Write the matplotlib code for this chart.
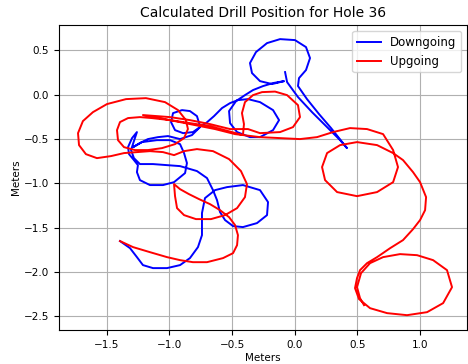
import numpy as np
import matplotlib
matplotlib.use("Agg")
import matplotlib.pyplot as plt

# Drill path traces (meters), east offset / north offset
down_x = [-0.077, -0.061, 0.026, 0.138, 0.258, 0.362, 0.417, 0.290, 0.194, 0.098, 0.026, 0.034,
          0.090, 0.122, 0.090, 0.002, -0.117, -0.221, -0.309, -0.357, -0.341, -0.277, -0.181, -0.085,
          -0.173, -0.253, -0.333, -0.397, -0.468, -0.524, -0.516, -0.460, -0.357, -0.277, -0.173, -0.125,
          -0.173, -0.277, -0.373, -0.453, -0.516, -0.580, -0.644, -0.708,
          -0.756, -0.780, -0.836, -0.899, -0.971, -0.987, -0.955, -0.891, -0.812, -0.756,
          -0.820, -0.915, -1.011, -1.091, -1.171, -1.235, -1.290,
          -1.219, -1.099, -0.995, -0.915, -0.883, -0.860, -0.875, -0.963, -1.051, -1.155, -1.235, -1.259,
          -1.251, -1.283, -1.322, -1.330, -1.298, -1.259,
          -1.283, -1.306, -1.283, -1.235, -1.131, -1.019, -0.915, -0.780, -0.700, -0.652, -0.620, -0.596,
          -0.556, -0.492, -0.413, -0.301, -0.221, -0.213, -0.277, -0.413, -0.540, -0.636, -0.716, -0.740,
          -0.740, -0.772, -0.836, -0.915, -1.019, -1.131, -1.211, -1.259, -1.314, -1.394]
down_y = [0.254, 0.141, -0.028, -0.198, -0.367, -0.514, -0.604, -0.378, -0.220, -0.051, 0.096, 0.186,
          0.277, 0.412, 0.536, 0.615, 0.626, 0.581, 0.480, 0.356, 0.243, 0.152, 0.119, 0.152,
          0.130, 0.096, 0.051, -0.006, -0.073, -0.186, -0.322, -0.423, -0.480, -0.480, -0.401, -0.288,
          -0.175, -0.085, -0.051, -0.062, -0.096, -0.152, -0.243, -0.322,
          -0.356, -0.243, -0.186, -0.175, -0.209, -0.310, -0.401, -0.435, -0.423, -0.367,
          -0.457, -0.502, -0.468, -0.480, -0.502, -0.547, -0.593,
          -0.536, -0.514, -0.514, -0.559, -0.660, -0.773, -0.886, -0.988, -1.021, -1.021, -0.965, -0.875,
          -0.796, -0.739, -0.672, -0.593, -0.491, -0.423,
          -0.525, -0.626, -0.717, -0.784, -0.784, -0.796, -0.807, -0.863, -0.942, -1.078, -1.191, -1.326,
          -1.416, -1.484, -1.495, -1.450, -1.360, -1.213, -1.078, -1.021, -1.044, -1.078, -1.168, -1.337,
          -1.586, -1.721, -1.845, -1.924, -1.958, -1.958, -1.924, -1.834, -1.733, -1.653]

up_x = [-1.394, -1.290, -1.155, -1.019, -0.915, -0.812, -0.700, -0.572, -0.492, -0.460, -0.453, -0.476,
        -0.524, -0.596, -0.676, -0.764, -0.844, -0.915, -0.963,
        -0.955, -0.939, -0.883, -0.788, -0.668, -0.556, -0.460, -0.397, -0.381, -0.429, -0.524, -0.652,
        -0.780, -0.883,
        -0.963, -1.051, -1.155, -1.259, -1.362, -1.466, -1.578, -1.666,
        -1.721, -1.729, -1.690, -1.610, -1.498, -1.346, -1.187, -1.035, -0.931, -0.868, -0.852, -0.883,
        -0.955, -1.059, -1.171, -1.275,
        -1.362, -1.410, -1.418, -1.394, -1.330, -1.235, -1.139,
        -0.995, -0.836, -0.676, -0.532, -0.413,
        -0.405, -0.421, -0.397, -0.333, -0.261, -0.157, -0.061, 0.026, 0.042, -0.014, -0.117, -0.277, -0.373,
        -0.516, -0.676, -0.836, -0.995, -1.211,
        -1.035, -0.836, -0.636, -0.476, -0.277, -0.117, 0.042, 0.178, 0.306, 0.441, 0.577, 0.705, 0.785,
        0.824, 0.785, 0.657, 0.497, 0.338, 0.242, 0.218, 0.258, 0.362, 0.497, 0.657, 0.785,
        0.864, 0.944, 1.000, 1.048, 1.040, 1.000, 0.944, 0.864, 0.761, 0.657, 0.577, 0.521,
        0.497, 0.481, 0.513, 0.601, 0.737, 0.896, 1.056, 1.184, 1.255, 1.215, 1.104, 0.976,
        0.840, 0.705, 0.601, 0.529, 0.497, 0.521, 0.553]
up_y = [-1.653, -1.721, -1.778, -1.834, -1.868, -1.891, -1.891, -1.845, -1.789, -1.699, -1.586, -1.473,
        -1.383, -1.304, -1.236, -1.179, -1.123, -1.067, -1.010,
        -1.146, -1.281, -1.360, -1.405, -1.405, -1.360, -1.281, -1.157, -1.010, -0.863, -0.728, -0.638,
        -0.615, -0.638,
        -0.683, -0.649, -0.638, -0.649, -0.660, -0.694, -0.717, -0.672,
        -0.570, -0.435, -0.299, -0.198, -0.107, -0.051, -0.040, -0.085, -0.175, -0.288, -0.389, -0.491,
        -0.559, -0.604, -0.626, -0.626,
        -0.593, -0.514, -0.401, -0.310, -0.265, -0.254, -0.265,
        -0.288, -0.322, -0.356, -0.412, -0.457,
        -0.333, -0.209, -0.085, -0.006, 0.028, 0.034, -0.006, -0.119, -0.254, -0.367, -0.423, -0.435, -0.389,
        -0.389, -0.333, -0.288, -0.254, -0.231,
        -0.277, -0.333, -0.389, -0.446, -0.480, -0.491, -0.502, -0.480, -0.423, -0.378, -0.389, -0.446, -0.626,
        -0.818, -0.988, -1.100, -1.146, -1.100, -0.965, -0.818, -0.660, -0.570, -0.536, -0.570, -0.660,
        -0.739, -0.875, -0.988, -1.157, -1.304, -1.416, -1.518, -1.642, -1.733, -1.834, -1.902, -1.981,
        -2.071, -2.184, -2.308, -2.410, -2.466, -2.489, -2.455, -2.353, -2.173, -1.981, -1.868, -1.812,
        -1.800, -1.834, -1.902, -2.015, -2.173, -2.297, -2.376]

fig = plt.figure(figsize=(4.68, 3.64), dpi=100)
ax = fig.add_axes([0.126, 0.093, 0.872, 0.838])

ax.plot(down_x, down_y, color="blue", lw=1.4, label="Downgoing")
ax.plot(up_x, up_y, color="red", lw=1.4, label="Upgoing")

ax.set_xlim(-1.881, 1.375)
ax.set_ylim(-2.658, 0.784)
ax.set_xticks([-1.5, -1.0, -0.5, 0.0, 0.5, 1.0])
ax.set_yticks([-2.5, -2.0, -1.5, -1.0, -0.5, 0.0, 0.5])
ax.grid(True, color="#b0b0b0", lw=0.8)
ax.tick_params(labelsize=7.5)

ax.set_title("Calculated Drill Position for Hole 36", fontsize=10)
ax.set_xlabel("Meters", fontsize=7.5, labelpad=2)
ax.set_ylabel("Meters", fontsize=7.5, labelpad=2)
ax.legend(loc="upper right", fontsize=8.5)

fig.savefig("out.png", dpi=100)
